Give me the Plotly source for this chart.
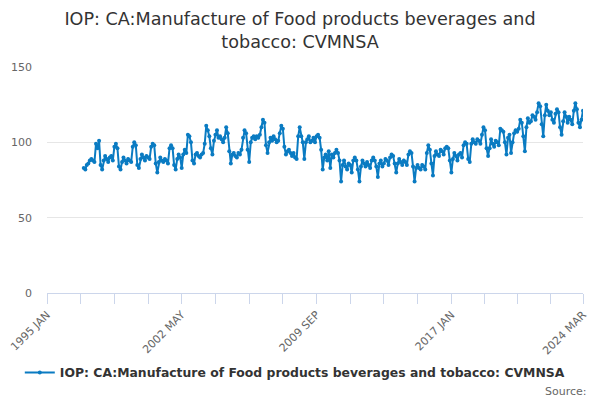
import pandas as pd
import plotly.graph_objects as go

# monthly index values, Jan 1997 .. Mar 2024 (one row per year)
start_month = '1997-01-01'
values = [
    83, 82, 85, 86, 88, 89, 88, 87, 99, 96, 101, 85,      # 1997
    82, 88, 91, 89, 87, 90, 91, 88, 97, 99, 96, 84,       # 1998
    82, 87, 90, 88, 86, 89, 88, 87, 97, 100, 98, 85,      # 1999
    83, 89, 92, 90, 88, 91, 90, 89, 97, 99, 98, 86,       # 2000
    80, 87, 90, 88, 87, 89, 88, 86, 96, 98, 96, 85,       # 2001
    82, 89, 92, 90, 83, 92, 95, 93, 105, 104, 100, 88,    # 2002
    86, 92, 93, 91, 90, 92, 93, 99, 111, 108, 104, 96,    # 2003
    92, 101, 105, 108, 103, 104, 102, 100, 103, 110, 106, 94,  # 2004
    86, 92, 93, 91, 90, 93, 92, 95, 103, 108, 106, 95,    # 2005
    87, 100, 103, 104, 102, 104, 103, 105, 110, 115, 113, 98,  # 2006
    93, 100, 103, 101, 104, 102, 100, 101, 106, 111, 109, 97,  # 2007
    92, 94, 95, 93, 91, 93, 90, 89, 104, 110, 104, 100,   # 2008
    89, 100, 102, 104, 100, 101, 103, 100, 104, 105, 103, 95,  # 2009
    82, 90, 92, 88, 94, 83, 92, 90, 93, 95, 93, 88,       # 2010
    74, 85, 88, 84, 82, 86, 85, 80, 88, 90, 88, 82,       # 2011
    74, 84, 88, 86, 84, 87, 85, 83, 88, 90, 88, 84,       # 2012
    77, 86, 88, 84, 86, 89, 88, 85, 90, 92, 91, 86,       # 2013
    80, 86, 89, 87, 85, 88, 87, 85, 92, 94, 93, 84,       # 2014
    74, 83, 85, 83, 82, 85, 84, 82, 93, 98, 95, 86,       # 2015
    78, 91, 94, 92, 91, 95, 94, 92, 96, 97, 96, 88,       # 2016
    80, 89, 93, 91, 88, 92, 93, 90, 98, 100, 99, 89,      # 2017
    87, 99, 102, 100, 99, 102, 101, 99, 105, 110, 108, 96,     # 2018
    91, 96, 102, 99, 97, 101, 100, 98, 109, 108, 107, 100,     # 2019
    92, 103, 105, 93, 100, 106, 108, 107, 109, 115, 113, 104,  # 2020
    94, 110, 116, 113, 114, 118, 117, 115, 120, 126, 124, 112, # 2021
    104, 118, 125, 121, 118, 120, 115, 113, 119, 122, 120, 110,  # 2022
    105, 114, 120, 117, 113, 117, 115, 112, 121, 126, 122, 113,  # 2023
    110, 115, 121,                                          # 2024
]

tick_dates = ['1995-01-01', '1996-11-01', '1998-09-01', '2000-07-01', '2002-05-01',
              '2004-03-01', '2006-01-01', '2007-11-01', '2009-09-01', '2011-07-01',
              '2013-05-01', '2015-03-01', '2017-01-01', '2018-10-16', '2020-08-01',
              '2022-05-16', '2024-03-01']
tick_labels = ['1995 JAN', '', '', '', '2002 MAY', '', '', '', '2009 SEP',
               '', '', '', '2017 JAN', '', '', '', '2024 MAR']

series_name = 'IOP: CA:Manufacture of Food products beverages and tobacco: CVMNSA'
title = 'IOP: CA:Manufacture of Food products beverages and<br>tobacco: CVMNSA'

dates = pd.date_range(start_month, periods=len(values), freq='MS').strftime('%Y-%m-%d').tolist()

fig = go.Figure()
fig.add_trace(go.Scatter(x=dates, y=values, mode='lines+markers', name=series_name,
                         line=dict(color='#0a7bc2', width=2),
                         marker=dict(color='#0a7bc2', size=4)))

# the page body adds an 8px offset, so positions below are shifted up/left by 8px
fig.update_layout(
    width=600, height=400,
    paper_bgcolor='white', plot_bgcolor='white',
    font=dict(family='DejaVu Sans', color='#333333'),
    title=dict(text=title, xref='container', x=0.4867, xanchor='center',
               yref='container', y=0.958, yanchor='top',
               font=dict(size=17.6, color='#333333')),
    margin=dict(l=39, r=25, t=59, b=115, autoexpand=False),
    showlegend=True,
    legend=dict(orientation='h', xref='container', yref='container',
                x=0.478, xanchor='center', y=0.0875, yanchor='middle',
                font=dict(size=12.4, color='#333333', weight='bold')),
)
fig.update_xaxes(type='date', range=['1995-01-01', '2024-03-01'], tickmode='array',
                 tickvals=tick_dates, ticktext=tick_labels, tickangle=-45,
                 ticks='outside', ticklen=10, tickcolor='#ccd6eb',
                 showline=True, linecolor='#ccd6eb', showgrid=False, zeroline=False,
                 tickfont=dict(size=11, color='#666666'))
fig.update_yaxes(range=[0, 150], tickvals=[0, 50, 100, 150], showgrid=True,
                 gridcolor='#e6e6e6', zeroline=False, showline=False,
                 ticklabelstandoff=14,
                 tickfont=dict(size=11, color='#666666'))
fig.add_annotation(text='Source:', xref='paper', yref='paper', x=1.012, y=-0.434,
                   xanchor='right', yanchor='middle', showarrow=False,
                   font=dict(size=11, color='#666666'))

fig.write_html('out.html')
